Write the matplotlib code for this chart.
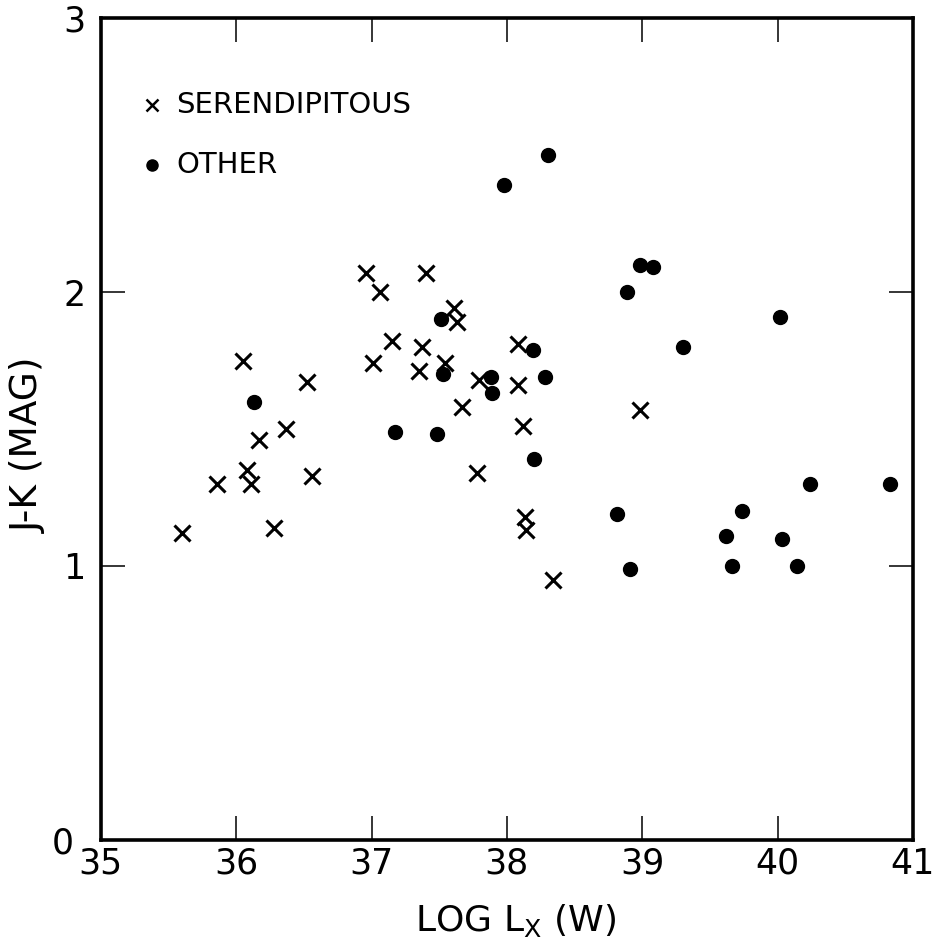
import matplotlib
matplotlib.use('Agg')
import matplotlib.pyplot as plt

plt.rcParams['font.family'] = ['DejaVu Sans']
plt.rcParams['mathtext.default'] = 'regular'

# serendipitous sources (crosses)
ser_logLx = [35.60, 35.86, 36.05, 36.08, 36.11, 36.17, 36.28, 36.37, 36.52, 36.56,
             36.96, 37.01, 37.06, 37.15, 37.35, 37.37, 37.40, 37.54, 37.61, 37.63,
             37.67, 37.78, 37.79, 38.08, 38.08, 38.12, 38.13, 38.14, 38.34, 38.98]
ser_jk = [1.12, 1.30, 1.75, 1.35, 1.30, 1.46, 1.14, 1.50, 1.67, 1.33,
          2.07, 1.74, 2.00, 1.82, 1.71, 1.80, 2.07, 1.74, 1.94, 1.89,
          1.58, 1.34, 1.68, 1.81, 1.66, 1.51, 1.18, 1.13, 0.95, 1.57]

# other sources (dots)
oth_logLx = [36.13, 37.17, 37.48, 37.51, 37.53, 37.88, 37.89, 37.98, 38.19, 38.20,
             38.28, 38.30, 38.81, 38.89, 38.91, 38.98, 39.08, 39.30, 39.62, 39.66,
             39.74, 40.02, 40.03, 40.14, 40.24, 40.83]
oth_jk = [1.60, 1.49, 1.48, 1.90, 1.70, 1.69, 1.63, 2.39, 1.79, 1.39,
          1.69, 2.50, 1.19, 2.00, 0.99, 2.10, 2.09, 1.80, 1.11, 1.00,
          1.20, 1.91, 1.10, 1.00, 1.30, 1.30]

x_ticks = [35, 36, 37, 38, 39, 40, 41]
y_ticks = [0, 1, 2, 3]

fig = plt.figure(figsize=(9.34, 9.49), dpi=100)
ax = fig.add_axes([0.108, 0.1149, 0.8695, 0.8661])

ax.plot(ser_logLx, ser_jk, 'x', color='black', markersize=11, markeredgewidth=2.2)
ax.plot(oth_logLx, oth_jk, 'o', color='black', markersize=10)

ax.set_xlim(35, 41)
ax.set_ylim(0, 3)
ax.set_xticks(x_ticks)
ax.set_yticks(y_ticks)
ax.set_xticklabels([str(t) for t in x_ticks])
ax.set_yticklabels([str(t) for t in y_ticks])

for s in ax.spines.values():
    s.set_linewidth(2.6)

ax.tick_params(axis='both', which='major', direction='in', length=17, width=1.1,
               top=True, right=True, labelsize=25)
ax.tick_params(axis='x', pad=5)
ax.tick_params(axis='y', pad=11)

# the "0" sits just left of the "35", nudge it so they don't collide
ax.get_yticklabels()[0].set_x(-0.014)

ax.set_xlabel('LOG L$_{X}$ (W)', fontsize=26)
ax.set_ylabel('J-K (MAG)', fontsize=27)
ax.xaxis.set_label_coords(0.51, -0.075)
ax.yaxis.set_label_coords(-0.066, 0.48)

# legend drawn by hand
ax.plot([0.063], [0.894], 'x', color='black', markersize=8, markeredgewidth=1.8,
        transform=ax.transAxes, clip_on=False)
ax.text(0.093, 0.894, 'SERENDIPITOUS', transform=ax.transAxes, fontsize=21,
        va='center', ha='left')
ax.plot([0.063], [0.821], 'o', color='black', markersize=8,
        transform=ax.transAxes, clip_on=False)
ax.text(0.093, 0.821, 'OTHER', transform=ax.transAxes, fontsize=21,
        va='center', ha='left')

fig.savefig('out.png', dpi=100)
